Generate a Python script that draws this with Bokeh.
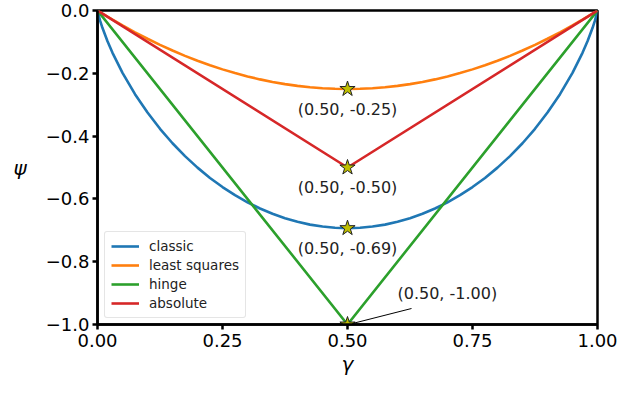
from bokeh.plotting import figure
from bokeh.models import Range1d, FixedTicker, Legend, LegendItem
from bokeh.core.properties import value
from bokeh.embed import file_html
from bokeh.resources import INLINE

# ---- data ----
gamma = [0, 0.005, 0.01, 0.02, 0.03, 0.05, 0.075, 0.1, 0.125, 0.15, 0.175, 0.2,
         0.225, 0.25, 0.275, 0.3, 0.325, 0.35, 0.375, 0.4, 0.425, 0.45, 0.475,
         0.5, 0.525, 0.55, 0.575, 0.6, 0.625, 0.65, 0.675, 0.7, 0.725, 0.75,
         0.775, 0.8, 0.825, 0.85, 0.875, 0.9, 0.925, 0.95, 0.97, 0.98, 0.99,
         0.995, 1.0]
classic = [0, -0.0315, -0.0560, -0.0980, -0.1347, -0.1985, -0.2664, -0.3251,
           -0.3768, -0.4227, -0.4637, -0.5004, -0.5332, -0.5623, -0.5882, -0.6109,
           -0.6306, -0.6474, -0.6616, -0.6730, -0.6819, -0.6881, -0.6919, -0.6931,
           -0.6919, -0.6881, -0.6819, -0.6730, -0.6616, -0.6474, -0.6306, -0.6109,
           -0.5882, -0.5623, -0.5332, -0.5004, -0.4637, -0.4227, -0.3768, -0.3251,
           -0.2664, -0.1985, -0.1347, -0.0980, -0.0560, -0.0315, 0]
least_squares = [0, -0.0050, -0.0099, -0.0196, -0.0291, -0.0475, -0.0694, -0.0900,
                 -0.1094, -0.1275, -0.1444, -0.1600, -0.1744, -0.1875, -0.1994,
                 -0.2100, -0.2194, -0.2275, -0.2344, -0.2400, -0.2444, -0.2475,
                 -0.2494, -0.2500, -0.2494, -0.2475, -0.2444, -0.2400, -0.2344,
                 -0.2275, -0.2194, -0.2100, -0.1994, -0.1875, -0.1744, -0.1600,
                 -0.1444, -0.1275, -0.1094, -0.0900, -0.0694, -0.0475, -0.0291,
                 -0.0196, -0.0099, -0.0050, 0]
hinge_x = [0.0, 0.5, 1.0]
hinge_y = [0.0, -1.0, 0.0]
absolute_x = [0.0, 0.5, 1.0]
absolute_y = [0.0, -0.5, 0.0]

min_x = [0.5, 0.5, 0.5, 0.5]
min_y = [-0.25, -0.50, -0.6931, -1.00]

x_ticks = [0.0, 0.25, 0.5, 0.75, 1.0]
x_tick_labels = ["0.00", "0.25", "0.50", "0.75", "1.00"]
y_ticks = [0.0, -0.2, -0.4, -0.6, -0.8, -1.0]
y_tick_labels = ["0.0", "\u22120.2", "\u22120.4", "\u22120.6", "\u22120.8", "\u22121.0"]

names = ["classic", "least squares", "hinge", "absolute"]
colors = ["#1f77b4", "#ff7f0e", "#2ca02c", "#d62728"]

FONT = "DejaVu Sans"
W, H = 618, 384
BL, BR, BT, BB = 97, 21, 10, 60
FRAME_W = W - BL - BR
FRAME_H = H - BT - BB

p = figure(width=W, height=H, output_backend="svg", toolbar_location=None,
           x_range=Range1d(0, 1), y_range=Range1d(-1, 0),
           min_border_left=BL, min_border_right=BR, min_border_top=BT,
           min_border_bottom=BB)
p.xgrid.visible = False
p.ygrid.visible = False
p.outline_line_color = "black"
p.outline_line_width = 2.5
p.outline_line_alpha = 1.0
p.background_fill_color = "white"
p.border_fill_color = "white"

for ax in (p.xaxis[0], p.yaxis[0]):
    ax.axis_line_width = 2.5
    ax.axis_line_color = "black"
    ax.major_tick_line_width = 2.5
    ax.major_tick_out = 5
    ax.major_tick_in = 0
    ax.minor_tick_line_color = None
    ax.major_label_text_font = FONT
    ax.major_label_text_font_size = "18px"
    ax.major_label_text_color = "black"
    ax.axis_label_text_font = FONT
    ax.axis_label_text_font_style = "italic"
    ax.axis_label_text_font_size = "20px"
    ax.axis_label_text_color = "black"

p.xaxis.ticker = FixedTicker(ticks=x_ticks)
p.xaxis.major_label_overrides = dict(zip(x_ticks, x_tick_labels))
p.yaxis.ticker = FixedTicker(ticks=y_ticks)
p.yaxis.major_label_overrides = dict(zip(y_ticks, y_tick_labels))
p.xaxis.axis_label = "\u03b3"
p.yaxis.axis_label = "\u03c8"
p.yaxis.axis_label_orientation = "horizontal"
p.xaxis.major_label_standoff = 4
p.yaxis.major_label_standoff = 3
p.xaxis.axis_label_standoff = 2
p.yaxis.axis_label_standoff = 16

lw = 2.6
r1 = p.line(gamma, classic, line_color=colors[0], line_width=lw)
r2 = p.line(gamma, least_squares, line_color=colors[1], line_width=lw)
r3 = p.line(hinge_x, hinge_y, line_color=colors[2], line_width=lw)
r4 = p.line(absolute_x, absolute_y, line_color=colors[3], line_width=lw)

p.scatter(min_x, min_y, marker="star", size=16, fill_color="#bfbf00",
          line_color="#222222", line_width=1)

labels = ["(%.2f, %.2f)" % (x, y) for x, y in zip(min_x, min_y)]
p.text(min_x[:3], min_y[:3], text=labels[:3], text_font=value(FONT),
       text_font_size="16px", text_align="center", text_baseline="middle",
       y_offset=20, text_color="#222222")
p.text(min_x[3:], min_y[3:], text=labels[3:], text_font=value(FONT),
       text_font_size="16px", text_align="left", text_baseline="middle",
       x_offset=50, y_offset=-31, text_color="#222222")
# annotation leader line (pixel offsets converted to data units)
p.segment(x0=[min_x[3] + 5 / FRAME_W], y0=[min_y[3] + 1 / FRAME_H],
          x1=[min_x[3] + 64 / FRAME_W], y1=[min_y[3] + 16 / FRAME_H],
          line_color="black", line_width=1)

legend = Legend(items=[LegendItem(label=n, renderers=[r]) for n, r in
                       zip(names, [r1, r2, r3, r4])],
                location=(7, 6))
legend.label_text_font = FONT
legend.label_text_font_size = "13.5px"
legend.label_text_color = "#222222"
legend.glyph_width = 28
legend.glyph_height = 16
legend.label_height = 16
legend.spacing = 3
legend.padding = 6
legend.margin = 0
legend.label_standoff = 10
legend.border_line_color = "#cccccc"
legend.border_line_width = 1
legend.background_fill_alpha = 0.8
legend.border_radius = 3
p.add_layout(legend)

open("out.html", "w").write(file_html(p, INLINE))
